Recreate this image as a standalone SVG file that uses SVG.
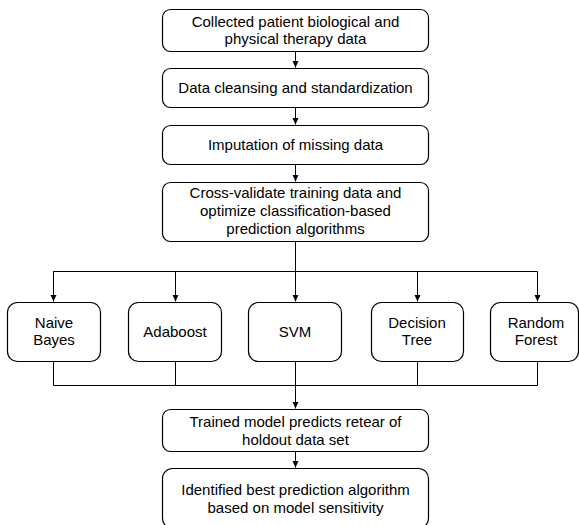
<svg xmlns="http://www.w3.org/2000/svg" width="579" height="525" viewBox="0 0 579 525">
<style>
.box{fill:#fff;stroke:#000;stroke-width:1.2}
text{font-family:"Liberation Sans",Arial,sans-serif;font-size:15px;fill:#000;text-anchor:middle}
.ln{fill:none;stroke:#000;stroke-width:1}
</style>
<defs>
<marker id="ah" markerWidth="8" markerHeight="8" refX="7" refY="4" orient="auto" markerUnits="userSpaceOnUse">
<path d="M0,0.8 L7,4 L0,7.2 Z" fill="#000"/>
</marker>
</defs>
<rect width="579" height="525" fill="#fff"/>
<g id="connectors">
<line class="ln" x1="295.5" y1="51" x2="295.5" y2="67.5" marker-end="url(#ah)"/>
<line class="ln" x1="295.5" y1="107" x2="295.5" y2="124.5" marker-end="url(#ah)"/>
<line class="ln" x1="295.5" y1="164" x2="295.5" y2="181.5" marker-end="url(#ah)"/>
<line class="ln" x1="295.5" y1="241" x2="295.5" y2="301.5" marker-end="url(#ah)"/>
<polyline class="ln" points="53.5,301.5 53.5,271.5 537.5,271.5 537.5,301.5" marker-end="url(#ah)"/>
<line class="ln" x1="53.5" y1="271.5" x2="53.5" y2="301.5" marker-end="url(#ah)"/>
<line class="ln" x1="175.5" y1="271.5" x2="175.5" y2="301.5" marker-end="url(#ah)"/>
<line class="ln" x1="417.5" y1="271.5" x2="417.5" y2="301.5" marker-end="url(#ah)"/>
<polyline class="ln" points="53.5,361 53.5,385.5 537.5,385.5 537.5,361"/>
<line class="ln" x1="175.5" y1="361" x2="175.5" y2="385.5"/>
<line class="ln" x1="417.5" y1="361" x2="417.5" y2="385.5"/>
<line class="ln" x1="295.5" y1="361" x2="295.5" y2="408.5" marker-end="url(#ah)"/>
<line class="ln" x1="295.5" y1="451" x2="295.5" y2="467.5" marker-end="url(#ah)"/>
</g>
<g id="n1"><rect class="box" x="162.5" y="9.5" width="266" height="42" rx="8"/>
<text x="295.5" y="27">Collected patient biological and</text><text x="295.5" y="44">physical therapy data</text></g>
<g id="n2"><rect class="box" x="162.5" y="68.5" width="266" height="39" rx="8"/>
<text x="295.5" y="93">Data cleansing and standardization</text></g>
<g id="n3"><rect class="box" x="162.5" y="125.5" width="266" height="39" rx="8"/>
<text x="295.5" y="150">Imputation of missing data</text></g>
<g id="n4"><rect class="box" x="162.5" y="182.5" width="266" height="59" rx="8"/>
<text x="295.5" y="198">Cross-validate training data and</text><text x="295.5" y="216">optimize classification-based</text><text x="295.5" y="234">prediction algorithms</text></g>
<g id="nb"><rect class="box" x="7.5" y="302.5" width="93" height="59" rx="10"/>
<text x="54" y="328">Naive</text><text x="54" y="345">Bayes</text></g>
<g id="ada"><rect class="box" x="128.5" y="302.5" width="93" height="59" rx="10"/>
<text x="175" y="337">Adaboost</text></g>
<g id="svm"><rect class="box" x="248.5" y="302.5" width="93" height="59" rx="10"/>
<text x="295" y="337">SVM</text></g>
<g id="dt"><rect class="box" x="371.5" y="302.5" width="92" height="59" rx="10"/>
<text x="417" y="328">Decision</text><text x="417" y="345">Tree</text></g>
<g id="rf"><rect class="box" x="490.5" y="302.5" width="88" height="59" rx="10"/>
<text x="536" y="328">Random</text><text x="536" y="345">Forest</text></g>
<g id="n5"><rect class="box" x="162.5" y="409.5" width="266" height="42" rx="8"/>
<text x="295.5" y="427">Trained model predicts retear of</text><text x="295.5" y="445">holdout data set</text></g>
<g id="n6"><rect class="box" x="162.5" y="468.5" width="266" height="60" rx="10"/>
<text x="295.5" y="495">Identified best prediction algorithm</text><text x="295.5" y="513">based on model sensitivity</text></g>
</svg>
